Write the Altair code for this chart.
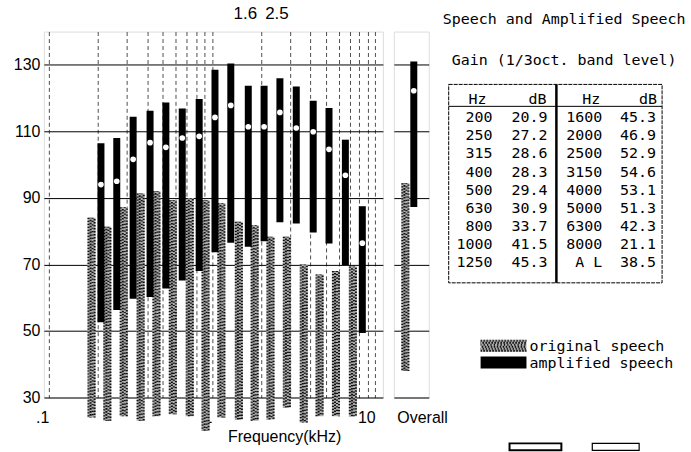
import altair as alt
import pandas as pd

# 1/3-octave band centre frequencies (kHz)
band_khz = [0.2, 0.25, 0.315, 0.4, 0.5, 0.63, 0.8, 1.0, 1.25,
            1.6, 2.0, 2.5, 3.15, 4.0, 5.0, 6.3, 8.0]

# amplified speech: band level range and mean (dB)
amp_high = [106.4, 108.0, 114.4, 116.2, 118.7, 116.9, 119.7, 128.5, 130.4,
            123.7, 123.7, 126.0, 123.5, 119.2, 117.0, 107.5, 87.5]
amp_mean = [94.0, 95.0, 101.6, 106.6, 105.2, 108.0, 108.5, 114.2, 117.8,
            111.4, 111.4, 115.7, 111.0, 109.9, 104.6, 96.8, 76.4]
amp_low = [52.6, 56.3, 59.7, 60.2, 62.8, 65.2, 68.0, 73.7, 76.5,
           75.3, 77.0, 82.7, 82.3, 79.6, 76.3, 69.8, 49.4]

# original speech: band level range (dB)
orig_high = [84.0, 81.3, 87.2, 91.3, 92.0, 89.3, 90.0, 89.3, 88.4,
             82.8, 81.8, 78.3, 78.3, 70.0, 67.0, 68.0, 69.4]
orig_low = [24.0, 23.0, 24.4, 23.0, 24.4, 25.0, 24.4, 20.0, 24.0,
            23.4, 23.0, 23.4, 27.0, 22.5, 24.4, 24.4, 24.4]

# overall (A-weighted) levels
overall_label = ["AL"]
overall_amp_low = [87.3]
overall_amp_mean = [122.2]
overall_amp_high = [131.0]
overall_orig_low = [38.0]
overall_orig_high = [94.4]

# gain table
gain_hz_left = ["200", "250", "315", "400", "500", "630", "800", "1000", "1250"]
gain_db_left = ["20.9", "27.2", "28.6", "28.3", "29.4", "30.9", "33.7", "41.5", "45.3"]
gain_hz_right = ["1600", "2000", "2500", "3150", "4000", "5000", "6300", "8000", "A L"]
gain_db_right = ["45.3", "46.9", "52.9", "54.6", "53.1", "51.3", "42.3", "21.1", "38.5"]

marked_khz = [1.6, 2.5]
marked_text = ["1.6", "2.5"]
grid_khz = [0.1, 0.2, 0.3, 0.4, 0.5, 0.6, 0.7, 0.8, 0.9,
            1, 2, 3, 4, 5, 6, 7, 8, 9, 10]
level_ticks = [30, 40, 50, 60, 70, 80, 90, 100, 110, 120, 130]

legend_text = ["original speech", "amplified speech"]
title_text = ["Speech and Amplified Speech"]
subtitle_text = ["Gain (1/3oct. band level)"]

FONT = "Liberation Sans"
MONO = "DejaVu Sans Mono"
PLOT_W, PLOT_H = 340, 367
SPECKLE_BG = "#ababab"

bands = pd.DataFrame({
    "khz": band_khz, "amp_high": amp_high, "amp_mean": amp_mean,
    "amp_low": amp_low, "orig_high": orig_high, "orig_low": orig_low,
})

y_scale = alt.Scale(domain=[30, 140], nice=False, zero=False)
x_scale = alt.Scale(type="log", domain=[0.1, 10.4], nice=False)

x_axis = alt.Axis(
    values=grid_khz,
    labelExpr="datum.value == 0.1 ? '.1' : datum.value == 1 ? '1' : datum.value == 10 ? '10' : ''",
    labelAlign="right", labelBaseline="top", labelPadding=12, labelFontSize=16,
    labelFlush=False, labelOverlap=False,
    ticks=False, domain=False,
    grid=True, gridColor="#222", gridWidth=0.8, gridDash=[4, 3],
    title="Frequency(kHz)", titleFontSize=16, titleFontWeight="normal",
    titleX=241, titleY=39, titleAlign="center", titleBaseline="middle",
)
y_axis = alt.Axis(
    values=level_ticks,
    labelExpr="datum.value % 20 == 10 ? datum.label : ''",
    labelFontSize=16, labelPadding=4, labelBaseline="middle",
    ticks=False, domain=False,
    grid=True, gridColor="black", gridWidth=1,
    title=None,
)

x_enc = alt.X("khz:Q", scale=x_scale, axis=x_axis)

# speckled original-speech bars: a grey strip overlaid with narrow dashed strips
orig_bg = alt.Chart(bands).mark_bar(width=8, xOffset=-6.5, color=SPECKLE_BG).encode(
    x=x_enc, y=alt.Y("orig_high:Q", scale=y_scale, axis=y_axis), y2="orig_low:Q"
)
speckle = []
for dx, dash, off in [(-9.5, [1.2, 1.8], 0), (-7.4, [1.6, 1.4], 1.2),
                      (-5.4, [1.2, 2.2], 0.4), (-3.4, [1.4, 1.6], 1.8)]:
    speckle.append(
        alt.Chart(bands).mark_rule(
            xOffset=dx, strokeWidth=2, strokeDash=dash,
            strokeDashOffset=off, color="#111",
        ).encode(x=x_enc, y=alt.Y("orig_high:Q", scale=y_scale), y2="orig_low:Q")
    )

amp_bars = alt.Chart(bands).mark_bar(width=7, xOffset=3, color="black").encode(
    x=x_enc, y=alt.Y("amp_high:Q", scale=y_scale), y2="amp_low:Q"
)
amp_dots = alt.Chart(bands).mark_circle(size=32, color="white", opacity=1, xOffset=3).encode(
    x=x_enc, y=alt.Y("amp_mean:Q", scale=y_scale)
)
marked = alt.Chart(pd.DataFrame({"khz": marked_khz, "t": marked_text})).mark_text(
    font=FONT, fontSize=17, baseline="middle", align="center", color="black"
).encode(x=x_enc, y=alt.value(-18), text="t:N")

main = alt.layer(orig_bg, *speckle, amp_bars, amp_dots, marked).properties(
    width=PLOT_W, height=PLOT_H
)

# overall panel
overall = pd.DataFrame({
    "band": overall_label, "amp_low": overall_amp_low, "amp_mean": overall_amp_mean,
    "amp_high": overall_amp_high, "orig_low": overall_orig_low, "orig_high": overall_orig_high,
})
ox = alt.X("band:N", scale=alt.Scale(type="point"), axis=alt.Axis(
    title="Overall", labels=False, ticks=False, domain=False, grid=False,
    titleFontSize=16, titleFontWeight="normal", titleAlign="left",
    titleX=3, titleY=20, titleBaseline="middle",
))
oy_axis = alt.Axis(values=level_ticks, labels=False, ticks=False, domain=False,
                   grid=True, gridColor="black", gridWidth=1, title=None)
o_bg = alt.Chart(overall).mark_bar(width=8, xOffset=-6, color=SPECKLE_BG).encode(
    x=ox, y=alt.Y("orig_high:Q", scale=y_scale, axis=oy_axis), y2="orig_low:Q"
)
o_speckle = []
for dx, dash, off in [(-9.0, [1.2, 1.8], 0), (-6.9, [1.6, 1.4], 1.2),
                      (-4.9, [1.2, 2.2], 0.4), (-2.9, [1.4, 1.6], 1.8)]:
    o_speckle.append(
        alt.Chart(overall).mark_rule(
            xOffset=dx, strokeWidth=2, strokeDash=dash,
            strokeDashOffset=off, color="#111",
        ).encode(x=ox, y=alt.Y("orig_high:Q", scale=y_scale), y2="orig_low:Q")
    )
o_bar = alt.Chart(overall).mark_bar(width=7, xOffset=2.5, color="black").encode(
    x=ox, y=alt.Y("amp_high:Q", scale=y_scale), y2="amp_low:Q"
)
o_dot = alt.Chart(overall).mark_circle(size=32, color="white", opacity=1, xOffset=2.5).encode(
    x=ox, y=alt.Y("amp_mean:Q", scale=y_scale)
)
overall_panel = alt.layer(o_bg, *o_speckle, o_bar, o_dot).properties(width=35, height=PLOT_H)

# information panel: titles, gain table, legend
one = pd.DataFrame({"k": [0]})


def label(text, x, y, align="left"):
    return alt.Chart(pd.DataFrame({"t": [text]})).mark_text(
        font=MONO, fontSize=15, align=align, baseline="middle", color="black"
    ).encode(x=alt.value(x), y=alt.value(y), text="t:N")


title = label(title_text[0], 3, -13)
subtitle = label(subtitle_text[0], 12, 29)

box = alt.Chart(one).mark_rect(filled=False, stroke="black", strokeWidth=1, strokeDash=[4, 1]).encode(
    x=alt.value(9), x2=alt.value(223), y=alt.value(53), y2=alt.value(252)
)
underline = alt.Chart(one).mark_rule(color="black", strokeWidth=1).encode(
    x=alt.value(9), x2=alt.value(223), y=alt.value(75)
)
divider = alt.Chart(one).mark_rule(color="black", strokeWidth=2.5).encode(
    x=alt.value(117), y=alt.value(53), y2=alt.value(252)
)

header_layers = [
    label(t, xr, 68, align="right")
    for t, xr in zip(["Hz", "dB", "Hz", "dB"], [47, 107, 161, 218])
]

rows = pd.DataFrame({
    "row": list(range(len(gain_hz_left))),
    "hz_l": gain_hz_left, "db_l": gain_db_left,
    "hz_r": gain_hz_right, "db_r": gain_db_right,
})
row_y = alt.Y("row:Q", scale=alt.Scale(domain=[0, 8], range=[86, 231]), axis=None)
table_cols = []
for field, xr in [("hz_l", 53), ("db_l", 108), ("hz_r", 163), ("db_r", 217)]:
    table_cols.append(
        alt.Chart(rows).mark_text(
            font=MONO, fontSize=15, align="right", baseline="middle", color="black"
        ).encode(x=alt.value(xr), y=row_y, text=f"{field}:N")
    )

sw_orig_bg = alt.Chart(one).mark_rect(color=SPECKLE_BG).encode(
    x=alt.value(41), x2=alt.value(87), y=alt.value(309), y2=alt.value(321)
)
sw_orig_tex = [
    alt.Chart(one).mark_rule(color="#111", strokeWidth=2, strokeDash=dash, strokeDashOffset=off).encode(
        x=alt.value(41), x2=alt.value(87), y=alt.value(yy)
    )
    for yy, dash, off in [(310, [1.2, 1.8], 0), (312, [1.6, 1.4], 1.2), (314, [1.2, 2.2], 0.4),
                          (316, [1.4, 1.6], 1.8), (318, [1.2, 1.8], 0.9), (320, [1.6, 1.4], 0.3)]
]
sw_amp = alt.Chart(one).mark_rect(color="black").encode(
    x=alt.value(41), x2=alt.value(87), y=alt.value(326), y2=alt.value(338)
)
leg_orig = label(legend_text[0], 90, 315)
leg_amp = label(legend_text[1], 90, 332)

buttons = [
    alt.Chart(one).mark_rect(filled=False, stroke="black", strokeWidth=sw).encode(
        x=alt.value(x0), x2=alt.value(x1), y=alt.value(413), y2=alt.value(420)
    )
    for x0, x1, sw in [(70, 122, 2), (153, 200, 1.2)]
]

info = alt.layer(
    title, subtitle, box, underline, divider, *header_layers, *table_cols,
    sw_orig_bg, *sw_orig_tex, sw_amp, leg_orig, leg_amp, *buttons,
).properties(width=251, height=PLOT_H, view=alt.ViewBackground(stroke="transparent"))

chart = alt.hconcat(main, overall_panel, info, spacing=11, bounds="flush").properties(
    padding={"left": 12, "top": 3, "right": 0, "bottom": 0}
).configure_view(stroke="black", strokeWidth=1.2).configure_axis(
    labelFont=FONT, titleFont=FONT, labelColor="black", titleColor="black"
).configure(background="white")

chart.save("out.html", embed_options={"renderer": "svg", "actions": False})
